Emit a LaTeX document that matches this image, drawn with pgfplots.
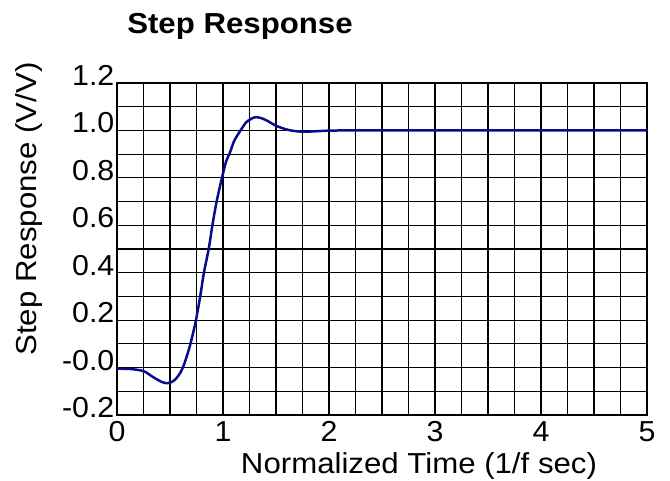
\documentclass[border=0pt]{standalone}
\usepackage{fontspec}
\setmainfont{Liberation Sans}
\usepackage{graphicx}
\usepackage{pgfplots}
\pgfplotsset{compat=1.18}
\definecolor{curve}{RGB}{10,10,140}
\newcommand{\wide}[1]{\scalebox{1.08}[1]{#1}}
\begin{document}
\begin{tikzpicture}
\useasboundingbox (-117bp,-66bp) rectangle (553bp,415bp);
\begin{axis}[
  name=ax,
  at={(0,0)}, anchor=south west,
  scale only axis, width=530bp, height=332bp,
  xmin=0, xmax=5, ymin=-0.2, ymax=1.2,
  xtick={0,1,2,3,4,5},
  minor xtick={0.25,0.5,0.75,1,1.25,1.5,1.75,2,2.25,2.5,2.75,3,3.25,3.5,3.75,4,4.25,4.5,4.75},
  ytick={-0.2,0,0.2,0.4,0.6,0.8,1.0,1.2},
  yticklabels={-0.2,-0.0,0.2,0.4,0.6,0.8,1.0,1.2},
  minor ytick={-0.1,0,0.1,0.2,0.3,0.4,0.5,0.6,0.7,0.8,0.9,1.0,1.1},
  xmajorgrids=false, ymajorgrids=false,
  xminorgrids=true, yminorgrids=true,
  minor grid style={black, line width=1.1pt},
  axis line style={black, line width=2.2pt},
  tick style={draw=none},
  /pgf/number format/assume math mode=true,
  tick label style={font=\fontsize{29}{31}\selectfont, xscale=1.05},
  xticklabel style={yshift=-3bp},
  yticklabel style={yshift=7.5bp, xshift=1bp},
  clip mode=individual,
]
\addplot[color=curve, line width=2.5pt, smooth, tension=0.5] coordinates {
(0,-0.005) (0.125,-0.006) (0.25,-0.015) (0.34,-0.04) (0.42,-0.06) (0.47,-0.066)
(0.52,-0.06) (0.56,-0.045) (0.60,-0.02) (0.63,0.01) (0.66,0.05) (0.69,0.095)
(0.72,0.15) (0.745,0.2) (0.785,0.3) (0.82,0.4) (0.865,0.5) (0.90,0.6)
(0.94,0.7) (0.99,0.8) (1.03,0.87) (1.06,0.9) (1.10,0.95) (1.13,0.975)
(1.18,1.01) (1.22,1.035) (1.27,1.05) (1.31,1.056) (1.36,1.052) (1.42,1.04)
(1.5,1.02) (1.6,1.004) (1.7,0.996) (1.8,0.995) (1.9,0.997) (2.0,0.999)
(2.2,1.0) (3,1.0) (4,1.0) (5,1.0)
};
\end{axis}
\node[font=\fontsize{29}{31}\selectfont\bfseries, anchor=base, inner sep=0pt] at (123bp,381bp) {\wide{Step Response}};
\node[font=\fontsize{29}{31}\selectfont, rotate=90, anchor=base, inner sep=0pt] at (-80bp,206bp) {\wide{Step Response (V/V)}};
\node[font=\fontsize{29}{31}\selectfont, anchor=base, inner sep=0pt] at (302bp,-58bp) {\wide{Normalized Time (1/f sec)}};
\end{tikzpicture}
\end{document}
